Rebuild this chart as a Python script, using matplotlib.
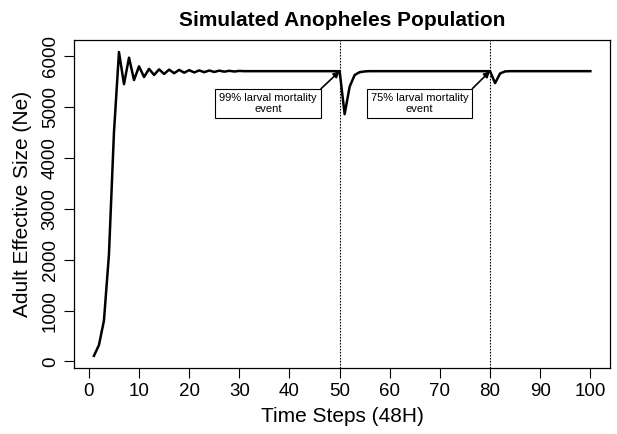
import matplotlib
matplotlib.use("Agg")
import matplotlib.pyplot as plt
import numpy as np

plt.rcParams['font.family'] = ['Liberation Sans', 'DejaVu Sans']

# Data
steps = np.arange(1, 101)

growth = [110, 320, 800, 2100, 4500]
oscill = [6080, 5450, 5970, 5530, 5800, 5590, 5750, 5630, 5740, 5650,
          5735, 5665, 5730, 5675, 5725, 5680, 5720, 5685, 5718, 5690,
          5715, 5695, 5712, 5698, 5710]
steady = 5705
dip99 = [4860, 5400, 5630, 5685, 5700]   # steps 51-55
dip75 = [5470, 5660, 5700]               # steps 81-83

event_steps = [50, 80]
event_labels = ["99% larval mortality\nevent", "75% larval mortality\nevent"]

ne = np.full(len(steps), steady, dtype=float)
ne[0:5] = growth
ne[5:5 + len(oscill)] = oscill
ne[50:50 + len(dip99)] = dip99
ne[80:80 + len(dip75)] = dip75

fig = plt.figure(figsize=(6.17, 4.34), dpi=100)
ax = fig.add_axes([0.12, 0.152, 0.869, 0.756])

ax.plot(steps, ne, color='black', lw=1.8)
ax.margins(x=0.04, y=0.04)

for s in event_steps:
    ax.axvline(s, color='black', lw=0.8, ls=(0, (1.5, 1.2)))

box_x = [35.7, 65.9]
for s, lab, bx in zip(event_steps, event_labels, box_x):
    ax.annotate(lab, xy=(s, steady), xytext=(bx, 5068),
                ha='center', va='center', fontsize=8,
                bbox=dict(boxstyle='square,pad=0.35', fc='white', ec='black', lw=0.8),
                arrowprops=dict(arrowstyle='-|>', color='black', lw=1.2,
                                shrinkA=0, shrinkB=0, mutation_scale=9,
                                relpos=(1, 1)))

ax.set_xticks(np.arange(0, 101, 10))
ax.set_yticks(np.arange(0, 6001, 1000))
ax.tick_params(direction='out', length=7, width=0.8, labelsize=13.5, pad=4)
for lab in ax.get_yticklabels():
    lab.set_rotation(90)
    lab.set_va('center')

for sp in ax.spines.values():
    sp.set_linewidth(0.9)

ax.set_xlabel('Time Steps (48H)', fontsize=15, labelpad=5)
ax.set_ylabel('Adult Effective Size (Ne)', fontsize=15, labelpad=7)
ax.set_title('Simulated Anopheles Population', fontsize=15, fontweight='bold', pad=10)

fig.savefig('out.png', dpi=100)
